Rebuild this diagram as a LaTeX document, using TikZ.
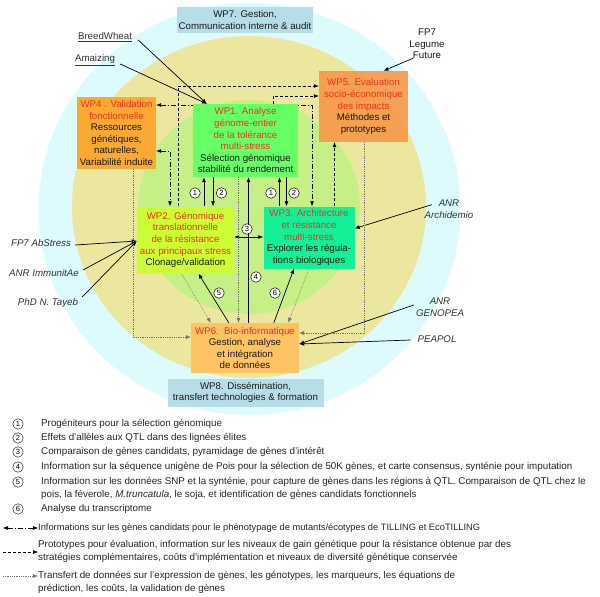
\documentclass[tikz,border=0pt]{standalone}
\usepackage{fontspec}
\setmainfont{Liberation Sans}
\usetikzlibrary{arrows.meta,calc}
\pgfdeclarelayer{back}
\pgfdeclarelayer{mid}
\pgfsetlayers{back,mid,main}
\definecolor{cyanbg}{RGB}{221,251,253}
\definecolor{khaki}{RGB}{235,231,158}
\definecolor{lgreen}{RGB}{199,239,135}
\definecolor{wpone}{RGB}{102,255,102}
\definecolor{wptwo}{RGB}{204,255,51}
\definecolor{wpthree}{RGB}{20,240,150}
\definecolor{wpfour}{RGB}{250,170,50}
\definecolor{wpfive}{RGB}{247,150,70}
\definecolor{wpsix}{RGB}{255,195,100}
\definecolor{wpteal}{RGB}{183,221,232}
\definecolor{wpred}{RGB}{240,50,30}
\definecolor{lbl}{RGB}{51,51,51}
\newcommand{\redt}[1]{\textcolor{wpred}{#1}}
\tikzset{
  wp/.style={rectangle, inner sep=0pt, align=center, font=\fontsize{9.7}{11.6}\selectfont, text=black!90},
  lab/.style={font=\fontsize{9.7}{11.6}\selectfont\itshape, text=lbl, align=center, inner sep=1pt},
  plainlab/.style={font=\fontsize{9.7}{11.6}\selectfont, text=black!90, align=center, inner sep=1pt},
  num/.style={circle, draw=black, fill=white, line width=0.5pt, inner sep=0pt, minimum size=10.5pt, font=\fontsize{7.5}{8}\selectfont},
  legtxt/.style={anchor=west, inner sep=0pt, align=left, font=\fontsize{9.8}{13}\selectfont, text=black!85},
  tip/.style={-{Latex[length=5pt,width=4pt]}},
  arr/.style={tip, line width=0.7pt},
  dsh/.style={tip, line width=0.7pt, dash pattern=on 3pt off 2pt},
  dda/.style={{Latex[length=5pt,width=4pt]}-{Latex[length=5pt,width=4pt]}, line width=0.7pt, dash pattern=on 5pt off 2pt on 1pt off 2pt},
  dot/.style={tip, line width=0.5pt, draw=black!55, dash pattern=on 0.8pt off 1pt}
}
\begin{document}
\begin{tikzpicture}[x=1pt,y=-1pt]
\useasboundingbox (0,0) rectangle (600,597);
\begin{pgfonlayer}{back}
\fill[white] (0,0) rectangle (600,597);
\fill[cyanbg] (249.5,209) ellipse[x radius=211pt, y radius=206pt];
\fill[khaki] (249,207) ellipse[x radius=177pt, y radius=171pt];
\fill[lgreen] (249,207) ellipse[x radius=111pt, y radius=107pt];
\end{pgfonlayer}

% boxes
\node[wp, fill=wpteal, minimum width=136pt, minimum height=26pt] (wp7) at (245,20) {WP7. Gestion,\\Communication interne \& audit};
\node[wp, fill=wpteal, minimum width=156pt, minimum height=28pt] (wp8) at (245.5,392.5) {WP8. Dissémination,\\transfert technologies \& formation};
\node[wp, fill=wpone, minimum width=105pt, minimum height=73pt] (wp1) at (245.5,140.5) {\redt{WP1. Analyse}\\\redt{génome-entier}\\\redt{de la tolérance}\\\redt{multi-stress}\\Sélection génomique\\stabilité du rendement};
\node[wp, fill=wptwo, minimum width=97pt, minimum height=67pt] (wp2) at (185.5,240) {\redt{WP2. Génomique}\\\redt{translationnelle}\\\redt{de la résistance}\\\redt{aux principaux stress}\\Clonage/validation};
\node[wp, fill=wpthree, minimum width=91pt, minimum height=62pt] (wp3) at (309,237.5) {\redt{WP3. Architecture}\\\redt{et résistance}\\\redt{multi-stress}\\Explorer les régula-\\tions biologiques};
\node[wp, fill=wpfour, minimum width=79pt, minimum height=72pt] (wp4) at (116.5,133) {\redt{WP4 . Validation}\\\redt{fonctionnelle}\\Ressources\\génétiques,\\naturelles,\\Variabilité induite};
\node[wp, fill=wpfive, fill opacity=0.88, text opacity=1, minimum width=89pt, minimum height=71pt] (wp5) at (363.5,106.5) {\redt{WP5. Evaluation}\\\redt{socio-économique}\\\redt{des impacts}\\Méthodes et\\prototypes};
\node[wp, fill=wpsix, minimum width=108pt, minimum height=50pt] (wp6) at (245,348) {\redt{WP6.\ \ Bio-informatique}\\Gestion, analyse\\et intégration\\de données};

% outside labels
\node[plainlab, text=lbl] (bw) at (105,37) {\underline{BreedWheat}};
\node[plainlab, text=lbl] (am) at (95,60) {\underline{Amaizing}};
\node[plainlab] (fp7lf) at (427,44) {FP7\\Legume\\Future};
\node[lab] (abs) at (41,243) {FP7 AbStress};
\node[lab] (imm) at (44,273) {ANR ImmunitAe};
\node[lab] (tay) at (48,303) {PhD N. Tayeb};
\node[lab] (arch) at (449,209) {ANR\\Archidemio};
\node[lab] (geno) at (440,307) {ANR\\GENOPEA};
\node[lab] (peap) at (437,339) {PEAPOL};

% circled numbers
\node[num] (n1a) at (195,193) {1};
\node[num] (n2a) at (221.5,193) {2};
\node[num] (n1b) at (271,193) {1};
\node[num] (n2b) at (294,193) {2};
\node[num] (n3) at (247,229) {3};
\node[num] (n4) at (256,277) {4};
\node[num] (n5) at (219,293) {5};
\node[num] (n6) at (275,293) {6};

% helper coordinates
\coordinate (c1) at (312,105);
\coordinate (c2) at (170,151);
\coordinate (c3) at (178.5,86);
\coordinate (c4) at (273,96);
\coordinate (c5) at (334.5,175);
\coordinate (x1) at (204,190);
\coordinate (x2) at (213,190);
\coordinate (x3) at (279.5,190);
\coordinate (x4) at (286.5,190);
\coordinate (y3) at (247,237);
\coordinate (s4) at (248.5,250);
\coordinate (d1) at (238.5,250);
\coordinate (d4) at (133,337);
\coordinate (d5) at (364,333);
\coordinate (wp1in) at ($(wp1.north west)+(14,0)$);
\coordinate (wp2in) at ($(wp2.west)+(0,1)$);
\coordinate (wp6in) at ($(wp6.east)+(0,-4)$);

\begin{pgfonlayer}{mid}
% external arrows
\draw[arr] ($(bw.east)+(5,3)$) -- (wp1in);
\draw[arr] ($(am.east)+(4,4)$) -- (wp1in);
\draw[arr] ($(fp7lf.south west)+(5,-2)$) -- ($(wp5.north)+(20,0)$);
\draw[arr] ($(abs.east)+(3,2)$) -- (wp2in);
\draw[arr] ($(imm.east)+(3,-3)$) -- (wp2in);
\draw[arr] ($(tay.east)+(3,-6)$) -- (wp2in);
\draw[arr] ($(arch.north)+(-17,6)$) -- ($(wp3.east)+(0,-9)$);
\draw[arr] ($(geno.west)+(-1,-2)$) -- (wp6in);
\draw[arr] ($(peap.west)+(-6,1)$) -- (wp6in);
% dash-dot (TILLING)
\draw[dda] (wp4.east |- c1) -- (c1) -- (c1 |- wp3.north);
\draw[dda] (wp4.east |- c2) -- (c2) -- (c2 |- wp2.north);
% dashed (prototypes)
\draw[dsh] (c3 |- wp2.north) -- (c3) -- (c3 -| wp5.west);
\draw[dsh] (c4 |- wp1.north) -- (c4) -- (c4 -| wp5.west);
\draw[dsh] (c5 |- wp3.north) -- (c5 |- wp5.south);
% solid numbered
\draw[arr] (x1 |- wp2.north) -- (x1 |- wp1.south);
\draw[arr] (x2 |- wp1.south) -- (x2 |- wp2.north);
\draw[arr] (x3 |- wp3.north) -- (x3 |- wp1.south);
\draw[arr] (x4 |- wp1.south) -- (x4 |- wp3.north);
\draw[arr, {Latex[length=5pt,width=4pt]}-{Latex[length=5pt,width=4pt]}] (wp2.east |- y3) -- (wp3.west |- y3);
\draw[arr] (s4 |- wp6.north) -- (s4 |- wp1.south);
\draw[arr] ($(wp6.north west)+(38,0)$) -- ($(wp2.south)+(13,0)$);
\draw[arr] ($(wp6.north west)+(83,0)$) -- ($(wp3.south)+(-15,0)$);
% dotted (transfer)
\draw[dot] (d4 |- wp4.south) -- (d4) -- (d4 -| wp6.west);
\draw[dot] ($(wp2.south)+(-4,0)$) -- ($(wp6.north west)+(20,0)$);
\draw[dot] (d1 |- wp1.south) -- (d1 |- wp6.north);
\draw[dot] (wp3.south) -- ($(wp6.north east)+(-11,0)$);
\draw[dot] (d5 |- wp5.south) -- (d5) -- (d5 -| wp6.east);
\end{pgfonlayer}

% legend
\node[num, line width=0.4pt] (l1) at (18,424) {1};
\node[num, line width=0.4pt] (l2) at (18,438) {2};
\node[num, line width=0.4pt] (l3) at (18,452) {3};
\node[num, line width=0.4pt] (l4) at (18,467) {4};
\node[num, line width=0.4pt] (l5) at (18,482) {5};
\node[num, line width=0.4pt] (l6) at (18,509) {6};
\node[legtxt] (t1) at (41,424) {Progéniteurs pour la sélection génomique};
\node[legtxt] (t2) at (41,438) {Effets d'allèles aux QTL dans des lignées élites};
\node[legtxt] (t3) at (41,452) {Comparaison de gènes candidats, pyramidage de gènes d'intérêt};
\node[legtxt] (t4) at (41,467) {Information sur la séquence unigène de Pois pour la sélection de 50K gènes, et carte consensus, synténie pour imputation};
\node[legtxt] (t5) at (41,488.5) {Information sur les données SNP et la synténie, pour capture de gènes dans les régions à QTL. Comparaison de QTL chez le\\pois, la féverole, \textit{M.truncatula}, le soja, et identification de gènes candidats fonctionnels};
\node[legtxt] (t6) at (41,509) {Analyse du transcriptome};
\coordinate (a1s) at (3,528);
\coordinate (a2s) at (3,552);
\coordinate (a3s) at (3,576);
\node[legtxt, font=\fontsize{9.3}{13}\selectfont] (t7) at (38,528) {Informations sur les gènes candidats pour le phénotypage de mutants/écotypes de TILLING et EcoTILLING};
\node[legtxt] (t8) at (38,551.5) {Prototypes pour évaluation, information sur les niveaux de gain génétique pour la résistance obtenue par des\\stratégies complémentaires, coûts d'implémentation et niveaux de diversité génétique conservée};
\node[legtxt] (t9) at (38,582.5) {Transfert de données sur l'expression de gènes, les génotypes, les marqueurs, les équations de\\prédiction, les coûts, la validation de gènes};
\draw[dda, line width=0.6pt] (a1s) -- (t7.west |- a1s);
\draw[dsh, line width=0.6pt] (a2s) -- (t8.west |- a2s);
\draw[dot] (a3s) -- (t9.west |- a3s);
\end{tikzpicture}
\end{document}
